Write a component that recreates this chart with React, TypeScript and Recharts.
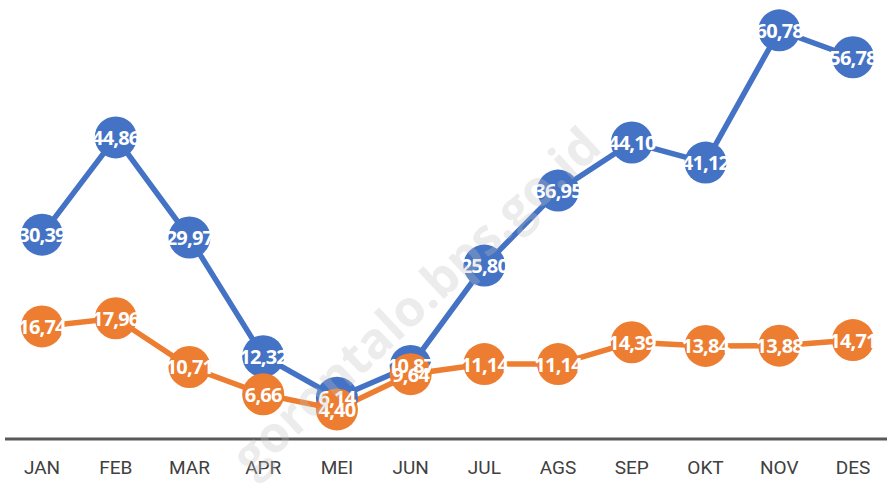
import React from 'react';
import { LineChart, Line, XAxis, YAxis, LabelList } from 'recharts';

const months = ['JAN', 'FEB', 'MAR', 'APR', 'MEI', 'JUN', 'JUL', 'AGS', 'SEP', 'OKT', 'NOV', 'DES'];
const blueValues = [30.39, 44.86, 29.97, 12.32, 6.14, 10.87, 25.8, 36.95, 44.1, 41.12, 60.78, 56.78];
const orangeValues = [16.74, 17.96, 10.71, 6.66, 4.4, 9.64, 11.14, 11.14, 14.39, 13.84, 13.88, 14.71];

const data = months.map((m, i) => ({ month: m, blue: blueValues[i], orange: orangeValues[i] }));

const fmt = (v: number) => v.toFixed(2).replace('.', ',');

const DotLabel = (props: any) => {
  const { x, y, value } = props;
  return (
    <text
      x={x}
      y={y}
      textAnchor="middle"
      dominantBaseline="central"
      fill="#fff"
      fontSize={20}
      fontWeight="bold"
      fontFamily="'Open Sans', 'Liberation Sans', sans-serif"
      letterSpacing={-0.8}
    >
      {fmt(value)}
    </text>
  );
};

const App: React.FC = () => {
  return (
    <div style={{ position: 'absolute', left: 0, top: 0, width: 887, height: 483, background: '#fff' }}>
      <LineChart width={887} height={483} data={data} margin={{ top: 2, right: 0, left: 5, bottom: 0 }}>
        <XAxis
          dataKey="month"
          padding={{ left: 37, right: 34 }}
          height={44}
          tickLine={false}
          axisLine={{ stroke: '#595959', strokeWidth: 3 }}
          tick={{ fill: '#404040', fontSize: 19, fontFamily: "'Liberation Sans Narrow', 'Roboto', sans-serif" }}
          dy={14}
        />
        <YAxis hide domain={[0, 65]} />
        <Line
          dataKey="blue"
          stroke="#4472C4"
          strokeWidth={5.5}
          dot={{ r: 21, fill: '#4472C4', stroke: '#4472C4', strokeWidth: 0 }}
          activeDot={false}
          isAnimationActive={false}
        >
          <LabelList dataKey="blue" content={DotLabel} />
        </Line>
        <Line
          dataKey="orange"
          stroke="#ED7D31"
          strokeWidth={5.5}
          dot={{ r: 21, fill: '#ED7D31', stroke: '#ED7D31', strokeWidth: 0 }}
          activeDot={false}
          isAnimationActive={false}
        >
          <LabelList dataKey="orange" content={DotLabel} />
        </Line>
      </LineChart>
      <svg width={887} height={483} style={{ position: 'absolute', left: 0, top: 0, pointerEvents: 'none' }}>
        <text
          x={415}
          y={300}
          textAnchor="middle"
          dominantBaseline="central"
          transform="rotate(-43 415 300)"
          fill="#bfbfbf"
          fillOpacity={0.3}
          fontSize={50}
          fontWeight="bold"
          fontFamily="'Open Sans', sans-serif"
        >
          gorontalo.bps.go.id
        </text>
      </svg>
    </div>
  );
};

export default App;
